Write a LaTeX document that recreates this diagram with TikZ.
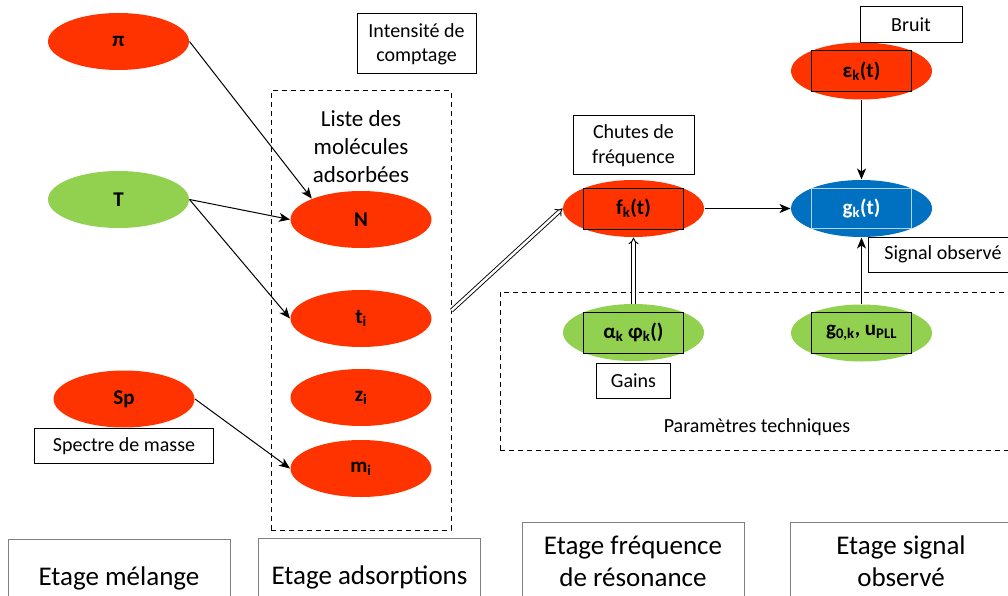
\documentclass[tikz,border=0pt]{standalone}
\usepackage{fontspec}
\setmainfont{Carlito}
\usetikzlibrary{shapes.geometric,positioning,arrows.meta}
\definecolor{rouge}{HTML}{FF3300}
\definecolor{vert}{HTML}{92D050}
\definecolor{bleu}{HTML}{0070C0}

\begin{document}
\begin{tikzpicture}[x=1pt,y=-1pt,>={Stealth[length=11pt,width=9pt,inset=3pt]}]
\tikzstyle{every path}=[line width=1pt];
\tikzstyle{every node}=[font=\fontsize{20}{24.4}\selectfont];
\tikzstyle{state}=[ellipse,minimum width=141pt,minimum height=57pt,inner sep=0pt,font=\fontsize{21}{25}\selectfont\bfseries];
\tikzstyle{redstate}=[state,fill=rouge];
\tikzstyle{greenstate}=[state,fill=vert];
\tikzstyle{bluestate}=[state,fill=bleu,text=white];
\tikzstyle{legend}=[rectangle,draw,align=center,inner sep=0pt,minimum height=35pt];
\tikzstyle{stage}=[rectangle,draw=gray,align=center,inner sep=0pt,minimum width=222pt,minimum height=78pt,font=\fontsize{27}{32}\selectfont];
\tikzstyle{dashbox}=[rectangle,draw,dash pattern=on 5pt off 4pt,inner sep=0pt];
\tikzstyle{twoline}=[draw,double,double distance=2.5pt,line width=0.9pt,-{Implies}];
\useasboundingbox (0,0) rectangle (1008,596);
\node[dashbox,minimum width=180pt,minimum height=439pt] (liste) at (361,310.5) {};
\node[dashbox,minimum width=515pt,minimum height=158pt] (params) at (757.5,371) {};
\node[align=center,font=\fontsize{23}{28}\selectfont] (listetxt) at (361,147) {Liste des\\molécules\\adsorbées};
\node (paramtxt) at (757,427) {Paramètres techniques};
\node[redstate] (pi) at (118.5,41.5) {π};
\node[greenstate] (T) at (118.5,199.5) {T};
\node[redstate] (Sp) at (124,399) {Sp};
\node[legend,minimum width=179pt] (spectre) [below=0pt of Sp] {Spectre de masse};
\node[legend,minimum width=119pt,minimum height=60pt] (intens) at (416.5,44) {Intensité de\\comptage};
\node[redstate] (N) at (361,219.5) {N};
\node[redstate] (ti) at (361,318.5) {t\textsubscript{i}};
\node[redstate] (zi) at (361,397.5) {z\textsubscript{i}};
\node[redstate] (mi) at (361,468.5) {m\textsubscript{i}};
\node[redstate] (fk) at (633.5,208.5) {f\textsubscript{k}(t)};
\node[legend,minimum width=121pt,minimum height=59pt] (chutes) [above=4pt of fk] {Chutes de\\fréquence};
\node[bluestate] (gk) at (861.5,208.5) {g\textsubscript{k}(t)};
\node[redstate] (ek) at (861.5,71) {ε\textsubscript{k}(t)};
\node[legend,minimum width=102pt,minimum height=36pt] (bruit) at (911,25) {Bruit};
\node[legend,minimum width=150pt] (signal) at (943,254.5) {Signal observé};
\node[greenstate] (alpha) at (633.5,332.5) {α\textsubscript{k} φ\textsubscript{k}()};
\node[legend,minimum width=74pt] (gains) [below=1.5pt of alpha] {Gains};
\node[greenstate] (g0) at (861.5,333) {g\textsubscript{0,k}, u\textsubscript{PLL}};
\foreach \n in {fk,ek,alpha,g0}
  \draw (\n.center) ++(-50,-20.5) rectangle ++(100,41);
\draw[white!70!bleu] (gk.center) ++(-50,-20) rectangle ++(100,40);
\node[stage] (melange) at (119,578) {Etage mélange};
\node[stage] (adsorp) at (369.5,577) {Etage adsorptions};
\node[stage] (frequ) at (633,561) {Etage fréquence\\de résonance};
\node[stage] (sigobs) at (901,561) {Etage signal\\observé};
\path[->] (pi.east) edge (N.157);
\path[->] (T.east) edge (N.west);
\path[->] (T.east) edge (ti.west);
\path[->] (Sp.east) edge (mi.west);
\path[->] (fk.east) edge (gk.west);
\path[->] (ek.south) edge (gk.north);
\path[->] (g0.north) edge (gk.south);
\draw[twoline] (liste.east) -- (fk.west);
\draw[twoline] (alpha.north) -- (fk.south);
\end{tikzpicture}
\end{document}
